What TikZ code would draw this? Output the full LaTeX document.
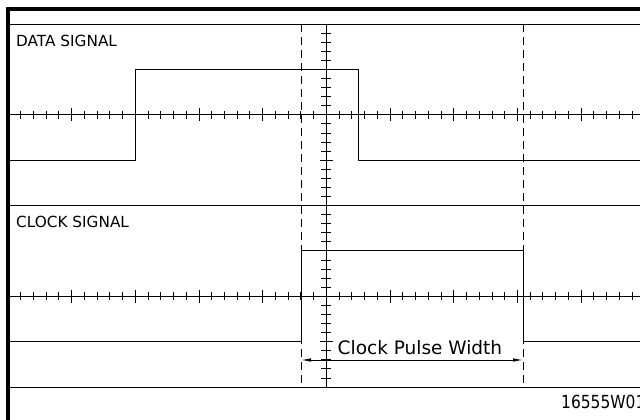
\documentclass[tikz,border=0pt]{standalone}
\usepackage{fontspec}
\setmainfont{DejaVu Sans}
\usetikzlibrary{arrows.meta}
\begin{document}
\begin{tikzpicture}[x=1pt,y=-1pt,
  thinline/.style={line width=0.9pt},
  border/.style={line width=3.6pt},
  dashline/.style={line width=0.9pt, dash pattern=on 8pt off 5pt},
  wave/.style={line width=1pt, line join=miter},
  tickline/.style={line width=0.8pt},
  lbl/.style={inner sep=0pt, anchor=base west, font=\fontsize{15.3}{16}\selectfont},
  biglbl/.style={inner sep=0pt, anchor=base west, font=\fontsize{18.5}{19}\selectfont},
  figlbl/.style={inner sep=0pt, anchor=base west, font=\fontsize{18}{19}\selectfont\addfontfeature{FakeStretch=0.86}},
  dim/.style={line width=0.9pt, {Latex[length=10pt,width=3.5pt]}-{Latex[length=10pt,width=3.5pt]}}
]
\clip (0,0) rectangle (640,420);
\fill[white] (0,0) rectangle (640,420);
% frame
\draw[border] (6,9) -- (640,9);
\draw[border] (8,7.5) -- (8,420);
% horizontal grid lines
\foreach \y in {24,205.5,387} \draw[thinline] (8,\y) -- (640,\y);
% horizontal axes with ticks
\foreach \y in {114.75,296.25} {
  \draw[thinline] (8,\y) -- (640,\y);
  \foreach \k in {-24,...,24} \draw[tickline] ({326.3+\k*12.74},\y-4) -- ({326.3+\k*12.74},\y+4);
  \foreach \k in {-20,-15,...,20} \draw[tickline] ({326.3+\k*12.74},\y-6.5) -- ({326.3+\k*12.74},\y+6.5);
}
% vertical axis with ticks
\draw[thinline] (326.3,24) -- (326.3,387);
\foreach \j in {0,...,40} \draw[tickline] (321.3,{24+\j*9.075}) -- (331.3,{24+\j*9.075});
\foreach \j in {0,5,...,40} \draw[tickline] (319.6,{24+\j*9.075}) -- (333,{24+\j*9.075});
% dashed markers
\draw[dashline] (301,24) -- (301,387);
\draw[dashline] (523,24) -- (523,387);
% waveforms
\draw[wave] (8,160.1) -- (135,160.1) -- (135,69.4) -- (358,69.4) -- (358,160.1) -- (640,160.1);
\draw[wave] (8,341.6) -- (301,341.6) -- (301,250.9) -- (523,250.9) -- (523,341.6) -- (640,341.6);
% labels
\node[lbl] (data) at (16,46.7) {DATA SIGNAL};
\node[lbl] (clock) at (16,227.3) {CLOCK SIGNAL};
\node[biglbl] (cpw) at (337.5,354) {Clock Pulse Width};
\node[figlbl] (fig) at (561,408.3) {16555W01};
% dimension arrow
\coordinate (pwL) at (301,360);
\coordinate (pwR) at (523,360);
\draw[dim] (pwL) -- (pwR);
\end{tikzpicture}
\end{document}
